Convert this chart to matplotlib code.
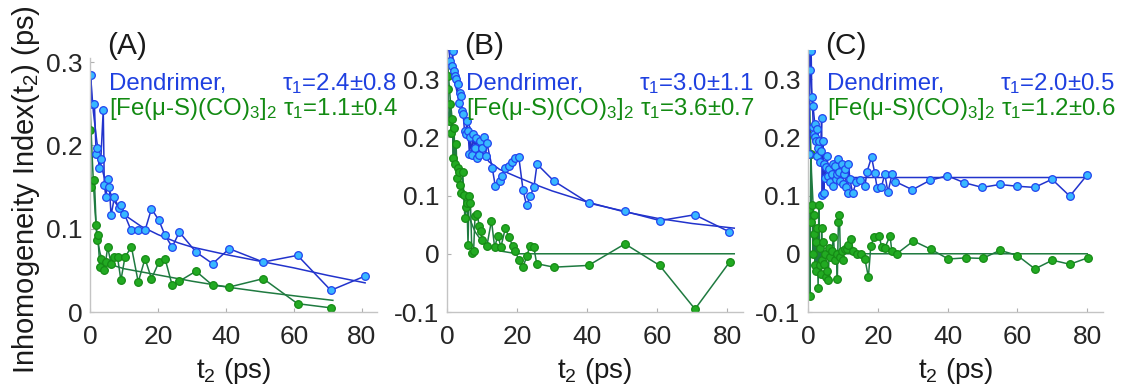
"""
Inhomogeneity index vs waiting time t2 for the three samples (A), (B), (C).
"""

import matplotlib
matplotlib.use('Agg')
import matplotlib.pyplot as plt  # pylint: disable=import-error

plt.rcParams['font.family'] = ['Liberation Sans', 'DejaVu Sans']
plt.rcParams['mathtext.fontset'] = 'custom'
plt.rcParams['mathtext.rm'] = 'Liberation Sans'
plt.rcParams['mathtext.it'] = 'Liberation Sans:italic'
plt.rcParams['axes.unicode_minus'] = False

# ---- panel A ----
tA_blue = [0.3, 0.5, 1.3, 1.8, 2.2, 2.7, 3.2, 3.9, 4.2, 4.7, 5.2, 5.7, 6.2, 7.2, 8.4, 9.1,
           10.1, 12.1, 14.0, 16.2, 18.1, 20.3, 22.1, 24.2, 26.3, 31.2, 36.1, 41.0, 51.0,
           61.1, 70.9, 80.9]
vA_blue = [0.285, 0.25, 0.25, 0.19, 0.197, 0.173, 0.184, 0.243, 0.153, 0.138, 0.16, 0.15,
           0.116, 0.138, 0.125, 0.128, 0.118, 0.098, 0.098, 0.098, 0.124, 0.11, 0.092,
           0.078, 0.096, 0.072, 0.058, 0.076, 0.06, 0.068, 0.026, 0.043]
tA_green = [0.1, 0.3, 1.3, 1.8, 2.1, 2.3, 2.9, 3.2, 4.2, 4.6, 5.2, 6.2, 7.2, 8.1, 9.1, 10.3,
            12.2, 14.2, 16.2, 18.1, 20.3, 22.1, 24.2, 26.3, 31.2, 36.1, 41.0, 51.0, 61.1, 70.9]
vA_green = [0.218, 0.15, 0.159, 0.104, 0.086, 0.092, 0.054, 0.064, 0.05, 0.06, 0.078, 0.058,
            0.066, 0.066, 0.038, 0.066, 0.078, 0.036, 0.064, 0.04, 0.06, 0.064, 0.032, 0.037,
            0.049, 0.032, 0.03, 0.04, 0.01, 0.005]
tA_fit_blue = [0, 0.5, 1, 2, 3, 4, 5, 7, 10, 15, 20, 26, 30, 40, 50, 60, 70, 81]
vA_fit_blue = [0.295, 0.265, 0.24, 0.205, 0.18, 0.165, 0.152, 0.134, 0.117, 0.103, 0.093,
               0.083, 0.078, 0.069, 0.061, 0.053, 0.044, 0.035]
tA_fit_green = [0, 0.5, 1, 1.5, 2, 2.5, 3, 4, 6, 10, 18, 30, 42, 51, 61, 71.5]
vA_fit_green = [0.25, 0.2, 0.155, 0.12, 0.095, 0.08, 0.07, 0.061, 0.057, 0.052, 0.046, 0.037,
                0.029, 0.024, 0.019, 0.014]

# ---- panel B ----
tB_blue = [0.9, 1.3, 1.6, 1.9, 2.2, 2.6, 3.0, 3.3, 3.6, 4.0, 4.3, 4.6, 5.0, 5.3, 5.7, 6.0,
           6.4, 6.7, 7.1, 7.5, 7.9, 8.3, 8.6, 9.0, 9.5, 10.0, 10.5, 11.0, 11.4, 12.9, 13.8,
           15.0, 15.7, 16.7, 17.6, 18.6, 19.5, 20.5, 21.7, 22.7, 23.8, 24.8, 25.7, 30.5,
           40.5, 50.7, 60.8, 70.7, 80.5]
vB_blue = [0.331, 0.322, 0.348, 0.314, 0.305, 0.300, 0.291, 0.259, 0.277, 0.271, 0.246,
           0.240, 0.211, 0.205, 0.228, 0.211, 0.171, 0.200, 0.170, 0.205, 0.182, 0.198,
           0.165, 0.170, 0.194, 0.182, 0.200, 0.168, 0.190, 0.148, 0.116, 0.125, 0.134,
           0.148, 0.151, 0.158, 0.165, 0.166, 0.110, 0.083, 0.100, 0.114, 0.154, 0.125,
           0.087, 0.073, 0.057, 0.067, 0.038]
tB_green = [0.2, 0.4, 0.6, 0.9, 1.2, 1.5, 1.8, 2.0, 2.3, 2.6, 2.9, 3.2, 3.5, 3.8, 4.1, 4.5,
            4.8, 5.1, 5.4, 5.7, 6.0, 6.3, 6.7, 7.1, 7.6, 8.0, 8.6, 9.2, 9.6, 10.0, 11.4,
            12.7, 13.6, 14.5, 15.4, 16.7, 17.6, 18.8, 19.5, 20.5, 21.7, 22.9, 23.6, 24.8,
            25.6, 30.5, 40.4, 50.8, 60.7, 70.8, 80.7]
vB_green = [0.305, 0.283, 0.228, 0.257, 0.208, 0.231, 0.165, 0.216, 0.154, 0.188, 0.131,
            0.148, 0.14, 0.118, 0.105, 0.14, 0.101, 0.062, 0.08, 0.088, 0.015, 0.1, 0.087,
            0.002, 0.005, 0.065, 0.068, 0.048, 0.039, 0.023, 0.014, 0.057, 0.011, 0.031,
            0.012, 0.045, 0.028, 0.014, 0.005, -0.011, -0.022, -0.003, 0.014, 0.011,
            -0.017, -0.023, -0.02, 0.017, -0.02, -0.095, -0.014]
tB_fit_blue = [0.5, 1, 2, 3, 4, 5, 7, 10, 12, 15, 20, 26, 30, 40, 50, 60, 70, 82]
vB_fit_blue = [0.35, 0.33, 0.3, 0.275, 0.255, 0.24, 0.21, 0.175, 0.158, 0.145, 0.132, 0.117,
               0.108, 0.089, 0.073, 0.061, 0.052, 0.044]
tB_fit_green = [0.0, 0.5, 1, 2, 3, 4, 5, 6, 8, 10, 12, 15, 20, 82]
vB_fit_green = [0.35, 0.30, 0.26, 0.20, 0.15, 0.115, 0.088, 0.067, 0.038, 0.021, 0.012,
                0.005, 0.0, 0.0]

# ---- panel C ----
tC_blue = [0.3, 0.5, 0.9, 1.1, 1.3, 1.5, 1.7, 1.9, 2.1, 2.3, 2.5, 2.7, 2.9, 3.2, 3.4, 3.6,
           3.9, 4.1, 4.3, 4.5, 4.7, 5.0, 5.2, 5.5, 5.8, 6.1, 6.4, 6.8, 7.1, 7.3, 7.7, 8.0,
           8.4, 8.7, 9.0, 9.3, 9.6, 10.0, 10.3, 10.6, 11.0, 11.4, 11.6, 12.0, 12.8, 13.8,
           14.9, 16.3, 16.9, 18.2, 19.1, 19.8, 21.0, 22.0, 22.9, 24.1, 25.0, 29.9, 34.9,
           39.9, 44.8, 49.9, 54.9, 59.9, 64.9, 69.9, 75.0, 79.9]
vC_blue = [0.171, 0.315, 0.349, 0.269, 0.254, 0.217, 0.206, 0.223, 0.200, 0.194, 0.168,
           0.214, 0.181, 0.194, 0.157, 0.177, 0.234, 0.101, 0.194, 0.105, 0.154, 0.131,
           0.149, 0.168, 0.134, 0.146, 0.123, 0.137, 0.154, 0.117, 0.151, 0.128, 0.137,
           0.163, 0.140, 0.125, 0.154, 0.120, 0.137, 0.146, 0.115, 0.104, 0.154, 0.128,
           0.104, 0.123, 0.126, 0.116, 0.141, 0.166, 0.139, 0.113, 0.114, 0.137, 0.106,
           0.137, 0.124, 0.110, 0.126, 0.134, 0.122, 0.114, 0.119, 0.116, 0.114, 0.128,
           0.099, 0.135]
tC_green = [0.3, 0.5, 0.8, 1.0, 1.2, 1.4, 1.6, 1.8, 2.0, 2.2, 2.4, 2.6, 2.9, 3.1, 3.3, 3.5,
            3.7, 3.9, 4.1, 4.3, 4.6, 4.9, 5.2, 5.5, 5.8, 6.1, 6.4, 6.8, 7.3, 7.7, 8.2, 8.4,
            8.7, 9.0, 9.3, 9.6, 10.0, 10.5, 11.1, 11.6, 12.3, 13.0, 13.9, 15.3, 16.3, 17.3,
            18.0, 18.9, 20.4, 21.1, 22.0, 23.5, 24.0, 25.4, 30.2, 35.1, 40.2, 45.2, 50.0,
            55.0, 60.0, 65.0, 70.0, 75.0, 80.1]
vC_green = [0.077, -0.073, 0.172, 0.054, 0.083, 0.0, 0.034, 0.066, -0.02, 0.02, -0.03,
            0.045, -0.058, 0.083, -0.02, 0.01, -0.035, 0.044, -0.01, 0.02, -0.017, 0.0,
            -0.04, -0.029, -0.045, 0.01, -0.005, 0.005, 0.028, -0.01, 0.0, -0.043, 0.054,
            0.066, -0.006, 0.005, -0.01, 0.008, 0.008, 0.015, 0.025, 0.005, 0.0, 0.0,
            -0.009, -0.04, 0.014, 0.028, 0.031, 0.011, 0.01, 0.031, 0.005, 0.0, 0.022,
            0.008, -0.009, -0.007, -0.008, 0.006, -0.003, -0.026, -0.011, -0.018, -0.007]
tC_fit_blue = [0.3, 0.5, 1, 1.5, 2, 3, 4, 5, 6, 8, 10, 12, 80]
vC_fit_blue = [0.35, 0.32, 0.28, 0.25, 0.22, 0.185, 0.163, 0.15, 0.142, 0.135, 0.132,
               0.131, 0.131]
tC_fit_green = [0.2, 0.4, 0.7, 1.0, 1.5, 2, 3, 4, 6, 8, 80]
vC_fit_green = [0.35, 0.28, 0.2, 0.14, 0.08, 0.045, 0.015, 0.005, 0.001, 0.0, 0.0]

labels = ['(A)', '(B)', '(C)']
tau_blue = ['2.4±0.8', '3.0±1.1', '2.0±0.5']
tau_green = ['1.1±0.4', '3.6±0.7', '1.2±0.6']

BLUE_LINE = '#2233cc'
BLUE_FACE = '#38b8ff'
BLUE_EDGE = '#2244ee'
GREEN_LINE = '#1f7a40'
GREEN_FACE = '#22aa22'
GREEN_EDGE = '#168a16'
BLUE_TEXT = '#1f40e0'
GREEN_TEXT = '#128a12'

W, H = 1122, 385


def fx(px):
    return px / W


def fy(py):
    return 1 - py / H


def main():
    fig = plt.figure(figsize=(W / 100, H / 100), dpi=100)

    # axes boxes in pixels: left, top, right, bottom
    boxes = [(90, 58, 377, 312), (447, 50, 743, 312), (808, 50, 1103, 312)]
    ylims = [(0, 0.305), (-0.1, 0.35), (-0.1, 0.35)]
    yticks = [[0, 0.1, 0.2, 0.3], [-0.1, 0, 0.1, 0.2, 0.3], [-0.1, 0, 0.1, 0.2, 0.3]]

    panels = [
        (tA_blue, vA_blue, tA_green, vA_green, tA_fit_blue, vA_fit_blue, tA_fit_green, vA_fit_green),
        (tB_blue, vB_blue, tB_green, vB_green, tB_fit_blue, vB_fit_blue, tB_fit_green, vB_fit_green),
        (tC_blue, vC_blue, tC_green, vC_green, tC_fit_blue, vC_fit_blue, tC_fit_green, vC_fit_green),
    ]

    for i, (l, t, r, b) in enumerate(boxes):
        ax = fig.add_axes([fx(l), fy(b), fx(r - l), (b - t) / H])
        tb, vb, tg, vg, tfb, vfb, tfg, vfg = panels[i]

        ax.plot(tfg, vfg, color=GREEN_LINE, lw=1.1)
        ax.plot(tg, vg, '-o', color=GREEN_LINE, lw=1.1, ms=5.5,
                mfc=GREEN_FACE, mec=GREEN_EDGE, mew=0.9)
        ax.plot(tfb, vfb, color=BLUE_LINE, lw=1.1)
        ax.plot(tb, vb, '-o', color=BLUE_LINE, lw=1.1, ms=5.5,
                mfc=BLUE_FACE, mec=BLUE_EDGE, mew=0.9)

        ax.set_xlim(0, 84.5)
        ax.set_ylim(*ylims[i])
        ax.set_xticks([0, 20, 40, 60, 80])
        ax.set_yticks(yticks[i])
        ax.set_yticklabels(['%g' % v for v in yticks[i]])
        for side in ['top', 'right']:
            ax.spines[side].set_visible(False)
        for side in ['left', 'bottom']:
            ax.spines[side].set_color('#c4c4c4')
            ax.spines[side].set_linewidth(1.0)
        ax.tick_params(direction='in', length=3, width=0.8, color='#b0b0b0',
                       labelsize=19, labelcolor='#262626')
        ax.tick_params(axis='x', pad=9)
        ax.tick_params(axis='y', pad=5.5)

        # panel label and annotations
        fig.text(fx(l + 17), fy(46), labels[i], fontsize=21.5, color='#1a1a1a',
                 ha='left', va='center')
        fig.text(fx(l + 19), fy(90), 'Dendrimer,', fontsize=17.3, color=BLUE_TEXT,
                 ha='left', va='baseline')
        fig.text(fx(l + 19), fy(115), '[Fe(μ-S)(CO)$_3$]$_2$', fontsize=17.3,
                 color=GREEN_TEXT, ha='left', va='baseline')
        fig.text(fx(l + 192), fy(90), 'τ$_1$=' + tau_blue[i], fontsize=17.3,
                 color=BLUE_TEXT, ha='left', va='baseline')
        fig.text(fx(l + 193), fy(115), 'τ$_1$=' + tau_green[i], fontsize=17.3,
                 color=GREEN_TEXT, ha='left', va='baseline')

        fig.text(fx((l + r) / 2), fy(378), 't$_2$ (ps)', fontsize=20, color='#1a1a1a',
                 ha='center', va='baseline')

    fig.text(fx(26), fy(190), 'Inhomogeneity Index(t$_2$) (ps)', fontsize=21,
             color='#1a1a1a', rotation=90, ha='center', va='center')

    fig.savefig('out.png', dpi=100)


if __name__ == "__main__":
    main()
